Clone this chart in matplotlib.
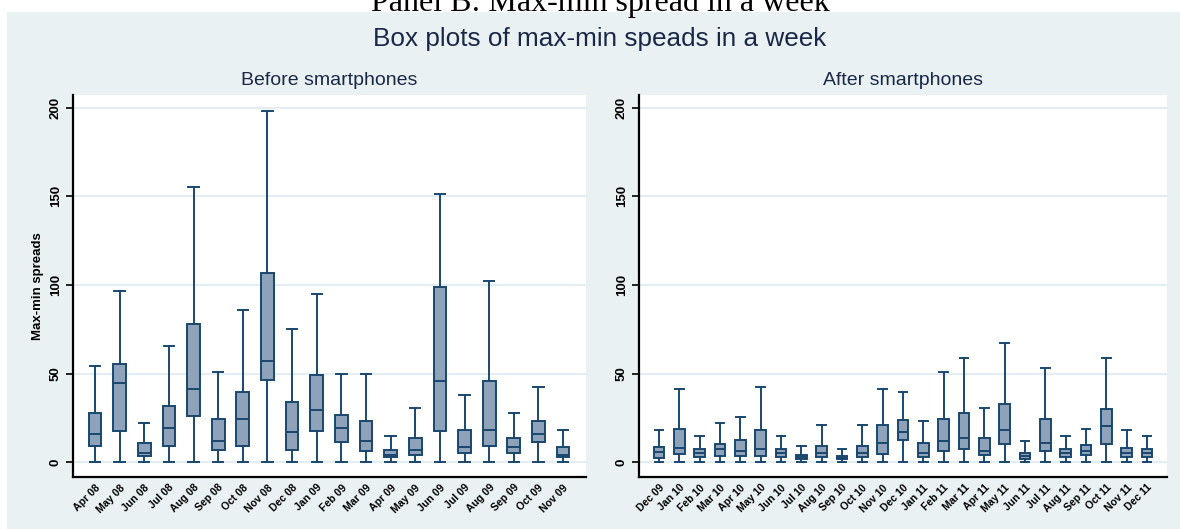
import matplotlib
matplotlib.use("Agg")
import matplotlib.pyplot as plt
from matplotlib.patches import Rectangle

# ---- data ----
before_labels = ["Apr 08", "May 08", "Jun 08", "Jul 08", "Aug 08", "Sep 08", "Oct 08",
                 "Nov 08", "Dec 08", "Jan 09", "Feb 09", "Mar 09", "Apr 09", "May 09",
                 "Jun 09", "Jul 09", "Aug 09", "Sep 09", "Oct 09", "Nov 09"]
before_lo = [0] * 20
before_q1 = [9.2, 17.9, 3.8, 9.2, 26.4, 7.2, 9.2, 46.5, 7.2, 17.9,
             11.5, 6.2, 2.8, 4.0, 17.9, 5.1, 9.2, 5.1, 11.7, 2.8]
before_med = [15.8, 44.6, 5.3, 19.2, 41.4, 11.9, 24.3, 57.4, 17.1, 29.8,
              19.2, 11.9, 4.1, 7.3, 45.8, 8.5, 18.1, 8.5, 16.0, 4.0]
before_q3 = [27.7, 55.4, 10.7, 32.0, 77.8, 24.5, 39.5, 106.8, 34.1, 49.2,
             26.7, 23.5, 7.3, 13.7, 98.9, 18.1, 45.8, 13.7, 23.4, 8.5]
before_hi = [54.2, 96.8, 22.4, 65.9, 155.4, 51.0, 86.2, 197.9, 75.5, 94.7,
             49.9, 49.9, 14.9, 30.7, 151.4, 38.2, 102.1, 27.7, 42.6, 18.1]

after_labels = ["Dec 09", "Jan 10", "Feb 10", "Mar 10", "Apr 10", "May 10", "Jun 10",
                "Jul 10", "Aug 10", "Sep 10", "Oct 10", "Nov 10", "Dec 10", "Jan 11",
                "Feb 11", "Mar 11", "Apr 11", "May 11", "Jun 11", "Jul 11", "Aug 11",
                "Sep 11", "Oct 11", "Nov 11", "Dec 11"]
after_lo = [0] * 25
after_q1 = [2.6, 4.9, 2.8, 3.8, 3.8, 3.8, 2.8, 1.7, 2.8, 1.7, 2.8, 5.0, 12.6,
            2.8, 6.2, 7.4, 4.0, 10.5, 1.9, 6.2, 3.0, 4.0, 10.5, 3.0, 3.0]
after_med = [5.7, 8.3, 5.1, 7.4, 6.4, 7.4, 5.1, 2.8, 5.3, 2.6, 5.1, 10.7, 17.2,
             5.4, 11.9, 13.9, 6.6, 18.3, 3.6, 10.8, 5.4, 6.6, 20.4, 5.3, 5.4]
after_q3 = [8.5, 19.1, 7.5, 10.6, 12.8, 18.1, 7.5, 4.0, 9.4, 3.4, 9.4, 21.2, 23.8,
            10.8, 24.5, 27.9, 13.9, 33.2, 5.3, 24.5, 7.6, 9.6, 30.0, 8.3, 7.6]
after_hi = [18.1, 41.3, 14.7, 22.3, 25.5, 42.5, 14.7, 9.4, 21.1, 7.4, 21.1, 41.5, 39.6,
            23.6, 51.1, 58.7, 30.9, 67.2, 11.9, 53.4, 14.9, 19.1, 58.7, 18.3, 14.9]

NAVY = "#1a476f"
FILL = "#8ea3b9"
BG = "#eaf1f3"
GRID = "#e4edf1"
TXT = "#1a2848"

W, H = 1180, 529
fig = plt.figure(figsize=(W / 100, H / 100), dpi=100)
fig.patch.set_facecolor("white")
# bluish graph region behind both panels
fig.add_artist(Rectangle((7 / W, 0), 1 - 7 / W, 1 - 12 / H, transform=fig.transFigure,
                         facecolor=BG, edgecolor="none", zorder=-10))

fig.text(600 / W, 1 - 10.5 / H, "Panel B: Max-min spread in a week", ha="center",
         va="baseline", fontsize=23, family="Liberation Serif", color="black")
fig.text(600 / W, 1 - 39 / H, "Box plots of max-min speads in a week", ha="center",
         va="center", fontsize=18.8, family="Liberation Sans", color=TXT)


def draw_panel(ax, labels, lo, q1, med, q3, hi, title, ylabel=None):
    stats = [dict(whislo=a, q1=b, med=c, q3=d, whishi=e, fliers=[])
             for a, b, c, d, e in zip(lo, q1, med, q3, hi)]
    n = len(labels)
    ax.bxp(stats, positions=range(1, n + 1), widths=0.52, capwidths=0.42,
           patch_artist=True, showfliers=False,
           boxprops=dict(facecolor=FILL, edgecolor=NAVY, linewidth=1.4),
           medianprops=dict(color=NAVY, linewidth=1.4),
           whiskerprops=dict(color=NAVY, linewidth=1.4),
           capprops=dict(color=NAVY, linewidth=1.4))
    ax.set_facecolor("white")
    ax.set_ylim(-8.2, 207.4)
    ax.set_yticks([0, 50, 100, 150, 200])
    ax.set_yticklabels(["0", "50", "100", "150", "200"], rotation=90, va="center",
                       fontsize=9.5, family="Liberation Sans", fontweight="bold")
    ax.grid(axis="y", color=GRID, linewidth=1.6)
    ax.set_axisbelow(True)
    ax.set_xticks(range(1, n + 1))
    ax.set_xticklabels(labels, rotation=45, ha="right", va="top", rotation_mode="anchor",
                       fontsize=7.6, family="Liberation Sans", fontweight="bold")
    ax.tick_params(axis="x", length=0, pad=4)
    ax.tick_params(axis="y", length=5, width=1.2, direction="out", pad=3)
    for side in ("top", "right"):
        ax.spines[side].set_visible(False)
    for side in ("left", "bottom"):
        ax.spines[side].set_linewidth(1.6)
        ax.spines[side].set_color("black")
    ax.set_title(title, fontsize=14, family="Liberation Sans", color=TXT, pad=7)
    if ylabel:
        ax.set_ylabel(ylabel, fontsize=9.5, family="Liberation Sans", fontweight="bold",
                      labelpad=4)


bottom = (H - 477) / H
height = (477 - 94.5) / H
ax1 = fig.add_axes([73 / W, bottom, (586 - 73) / W, height])
ax2 = fig.add_axes([639 / W, bottom, (1167 - 639) / W, height])

draw_panel(ax1, before_labels, before_lo, before_q1, before_med, before_q3, before_hi,
           "Before smartphones", "Max-min spreads")
ax1.set_xlim(0.107, 20.93)
draw_panel(ax2, after_labels, after_lo, after_q1, after_med, after_q3, after_hi,
           "After smartphones")
ax2.set_xlim(0.016, 25.98)

fig.savefig("out.png", dpi=100, facecolor=fig.get_facecolor())
